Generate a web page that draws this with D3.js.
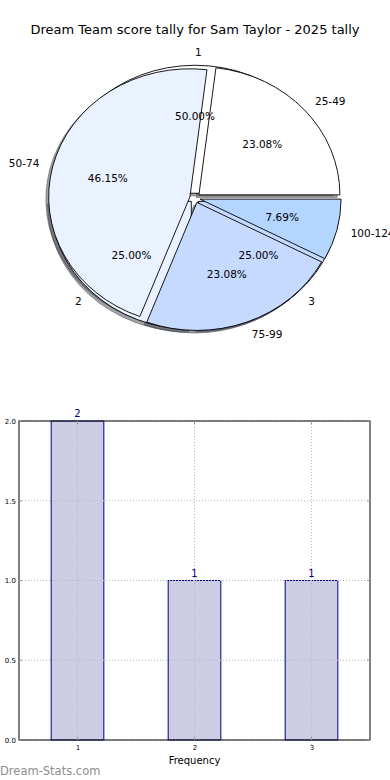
<!DOCTYPE html>
<html><head><meta charset="utf-8">
<script src="https://cdn.jsdelivr.net/npm/d3@7/dist/d3.min.js"></script>
<style>
html,body{margin:0;padding:0;background:#fff;}
svg{display:block;font-family:"DejaVu Sans",sans-serif;}
</style></head>
<body><svg id="c" width="390" height="780"></svg>
<script>
const title = "Dream Team score tally for Sam Taylor - 2025 tally";
const rangeLabels = ["25-49","50-74","75-99","100-124"];
const rangeCounts = [3,6,3,1];
const freqLabels = ["1","2","3"];
const freqShares = [2,1,1];
const pieColors = ["#ffffff","#eaf1ff","#c6d9ff","#b3d5ff"];
const barCats = [1,2,3];
const barValues = [2,1,1];
const yTicks = [0.0,0.5,1.0,1.5,2.0];

const svg = d3.select("#c");
svg.append("text").attr("x",195).attr("y",34).attr("text-anchor","middle")
  .attr("font-size",13).attr("fill","#000").text(title);

// ---- pie ----
const cx=195, cy=198, rx=141, ry=128, ex=0.037;
const pie = d3.pie().sort(null).startAngle(Math.PI/2).endAngle(Math.PI/2-2*Math.PI);
const arc = d3.arc().innerRadius(0).outerRadius(1);
function build(labels, vals){
  const tot=d3.sum(vals);
  return pie(vals).map((d,i)=>{
    const a=(d.startAngle+d.endAngle)/2;
    return {d, label:labels[i], pct:(100*vals[i]/tot).toFixed(2)+"%", color:pieColors[i],
      ox: cx+ex*rx*Math.sin(a), oy: cy-ex*ry*Math.cos(a), sa:Math.sin(a), ca:Math.cos(a)};
  });
}
const p2 = build(freqLabels, freqShares);
const p1 = build(rangeLabels, rangeCounts);
const gPie = svg.append("g");
function shade(c){const r=d3.rgb(c);return d3.rgb(r.r*0.3,r.g*0.3,r.b*0.3).toString();}
// shadows
[p2,p1].forEach(P=>P.forEach(w=>{
  gPie.append("path").attr("d",arc(w.d))
    .attr("transform",`translate(${w.ox-0.02*rx},${w.oy+0.02*ry}) scale(${rx},${ry})`)
    .attr("fill",shade(w.color)).attr("fill-opacity",0.5)
    .attr("stroke",shade(w.color)).attr("stroke-opacity",0.5)
    .attr("stroke-width",1).attr("vector-effect","non-scaling-stroke");
}));
[p2,p1].forEach(P=>P.forEach(w=>{
  gPie.append("path").attr("d",arc(w.d))
    .attr("transform",`translate(${w.ox},${w.oy}) scale(${rx},${ry})`)
    .attr("fill",w.color).attr("stroke","#000").attr("stroke-width",0.9)
    .attr("vector-effect","non-scaling-stroke").attr("stroke-linejoin","miter");
}));
[p2,p1].forEach(P=>P.forEach(w=>{
  const lx=w.ox+1.1*rx*w.sa, ly=w.oy-1.1*ry*w.ca;
  gPie.append("text").attr("x",lx).attr("y",ly).attr("dy","0.35em")
    .attr("text-anchor", w.sa>=-1e-9 ? "start":"end")
    .attr("font-size",10.5).attr("fill","#000").text(w.label);
  const px=w.ox+0.6*rx*w.sa, py=w.oy-0.6*ry*w.ca;
  gPie.append("text").attr("x",px).attr("y",py).attr("dy","0.35em")
    .attr("text-anchor","middle").attr("font-size",10.5).attr("fill","#000").text(w.pct);
}));

// ---- bars ----
const L=19,R=370,T=421,B=740;
const x=d3.scaleLinear().domain([0.5,3.5]).range([L,R]);
const y=d3.scaleLinear().domain([0,2]).range([B,T]);
const gb=svg.append("g");
const bw=0.45;
gb.selectAll("rect.bar").data(barCats).enter().append("rect")
  .attr("x",d=>x(d-bw/2)).attr("width",d=>x(d+bw/2)-x(d-bw/2))
  .attr("y",(d,i)=>y(barValues[i])).attr("height",(d,i)=>y(0)-y(barValues[i]))
  .attr("fill","#ccccE5").attr("stroke","#000080").attr("stroke-width",1);
// grid
gb.selectAll("line.gy").data(yTicks).enter().append("line")
  .attr("x1",L).attr("x2",R).attr("y1",d=>y(d)).attr("y2",d=>y(d))
  .attr("stroke","#b8b8b8").attr("stroke-width",1).attr("stroke-dasharray","1,2");
gb.selectAll("line.gx").data(barCats).enter().append("line")
  .attr("y1",T).attr("y2",B).attr("x1",d=>x(d)).attr("x2",d=>x(d))
  .attr("stroke","#b8b8b8").attr("stroke-width",1).attr("stroke-dasharray","1,2");
gb.append("rect").attr("x",L).attr("y",T).attr("width",R-L).attr("height",B-T)
  .attr("fill","none").attr("stroke","#000").attr("stroke-width",1);
// axes
const ya=d3.axisLeft(y).tickValues(yTicks).tickFormat(d3.format(".1f")).tickSize(0).tickPadding(3);
gb.append("g").attr("transform",`translate(${L},0)`).call(ya)
  .call(g=>g.select(".domain").remove())
  .call(g=>g.selectAll("text").attr("font-size",7).attr("fill","#000").attr("font-family","DejaVu Sans"));
const xa=d3.axisBottom(x).tickValues(barCats).tickFormat(d3.format("d")).tickSize(0).tickPadding(5);
gb.append("g").attr("transform",`translate(0,${B})`).call(xa)
  .call(g=>g.select(".domain").remove())
  .call(g=>g.selectAll("text").attr("font-size",7).attr("fill","#000").attr("font-family","DejaVu Sans"));
// small ticks
gb.selectAll("line.tl").data(yTicks).enter().append("line")
  .attr("x1",L).attr("x2",L+3).attr("y1",d=>y(d)).attr("y2",d=>y(d)).attr("stroke","#999");
gb.selectAll("line.tr").data(yTicks).enter().append("line")
  .attr("x1",R-3).attr("x2",R).attr("y1",d=>y(d)).attr("y2",d=>y(d)).attr("stroke","#999");
gb.selectAll("line.tt").data(barCats).enter().append("line")
  .attr("x1",d=>x(d)).attr("x2",d=>x(d)).attr("y1",T).attr("y2",T+3).attr("stroke","#999");
gb.selectAll("line.tb").data(barCats).enter().append("line")
  .attr("x1",d=>x(d)).attr("x2",d=>x(d)).attr("y1",B-3).attr("y2",B).attr("stroke","#999");
// value labels
gb.selectAll("text.vl").data(barCats).enter().append("text")
  .attr("x",d=>x(d)).attr("y",(d,i)=>y(barValues[i])-4).attr("text-anchor","middle")
  .attr("font-size",10).attr("fill","#000080").text((d,i)=>barValues[i]);
gb.append("text").attr("x",(L+R)/2).attr("y",764).attr("text-anchor","middle")
  .attr("font-size",10).attr("fill","#000").text("Frequency");
svg.append("text").attr("x",0).attr("y",775).attr("font-size",11.5).attr("font-weight","normal")
  .attr("fill","#8e8e8e").text("Dream-Stats.com");
</script></body></html>
